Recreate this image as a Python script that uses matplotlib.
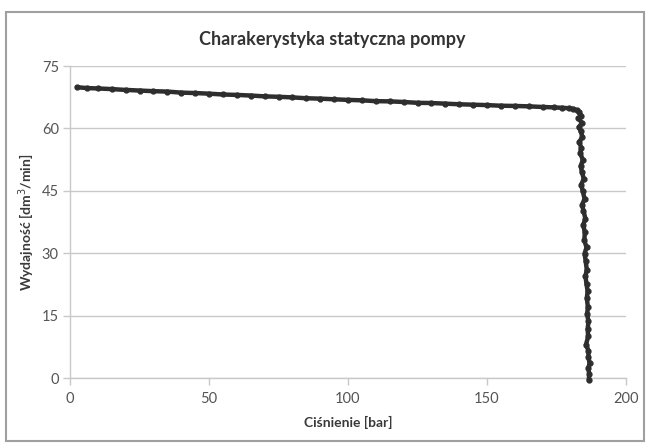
import matplotlib
matplotlib.use("Agg")
import matplotlib.pyplot as plt
from matplotlib.patches import Rectangle

title = "Charakerystyka statyczna pompy"
xlabel = "Ciśnienie [bar]"
ylabel = "Wydajność [dm$^3$/min]"
xticks = [0, 50, 100, 150, 200]
yticks = [0, 15, 30, 45, 60, 75]

# flat part of characteristic
pressure_flat = [2.5, 6, 10, 15, 20, 25, 30, 35, 40, 45, 50, 55, 60, 65, 70, 75, 80, 85,
                 90, 95, 100, 105, 110, 115, 120, 125, 130, 135, 140, 145, 150, 155,
                 160, 165, 170, 174, 177, 179.5, 181, 182.2]
flow_flat = [69.9, 69.7, 69.6, 69.45, 69.25, 69.1, 68.95, 68.85, 68.6, 68.5, 68.35, 68.15,
             68.05, 67.9, 67.7, 67.6, 67.45, 67.25, 67.15, 67.0, 66.85, 66.75, 66.55,
             66.5, 66.35, 66.15, 66.1, 65.95, 65.8, 65.7, 65.6, 65.45, 65.4, 65.3,
             65.15, 65.05, 64.95, 64.85, 64.7, 64.4]
# vertical (relief valve) part
pressure_vert = [183.0, 183.9, 182.8, 184.2, 183.0, 183.7, 184.3, 183.2, 183.9, 183.5,
                 184.5, 183.7, 184.1, 184.8, 183.9, 184.4, 185.1, 184.2, 184.7, 185.4,
                 184.6, 185.2, 185.0, 185.8, 185.1, 185.5, 185.9, 185.4, 185.8, 186.2,
                 185.9, 186.3, 186.0, 186.5, 186.2, 186.4, 185.6, 186.5, 186.5, 186.9,
                 186.4, 186.8, 186.6]
flow_vert = [64.0, 63.1, 62.4, 61.3, 60.3, 59.4, 57.9, 56.8, 55.3, 54.1,
             52.4, 51.0, 49.6, 47.9, 46.5, 45.0, 43.1, 41.6, 40.2, 38.3,
             36.8, 35.0, 33.1, 31.4, 29.9, 28.1, 26.0, 24.5, 22.6, 20.8,
             19.2, 17.0, 15.4, 13.6, 11.7, 10.0, 8.0, 6.6, 5.0, 3.5,
             2.3, 1.0, -0.5]

pressure = pressure_flat + pressure_vert
flow = flow_flat + flow_vert

plt.rcParams['font.family'] = ['Lato', 'DejaVu Sans']

W, H = 646, 443
fig = plt.figure(figsize=(W / 100, H / 100), dpi=100)
fig.patch.set_facecolor('white')

ax = fig.add_axes([70 / W, 1 - 378 / H, (626 - 70) / W, (378 - 66) / H])
ax.plot(pressure, flow, color='#2e2e2e', lw=3.2, solid_joinstyle='round',
        solid_capstyle='round', marker='o', ms=3.5, mec='#2e2e2e', mfc='#2e2e2e',
        zorder=3, clip_on=False)
ax.set_xlim(0, 200)
ax.set_ylim(0, 75)
ax.set_xticks(xticks)
ax.set_yticks(yticks)
ax.yaxis.grid(True, color='#c8c8c8', lw=1)
ax.set_axisbelow(True)
for s in ['top', 'right']:
    ax.spines[s].set_visible(False)
for s in ['left', 'bottom']:
    ax.spines[s].set_color('#c8c8c8')
    ax.spines[s].set_linewidth(1)
ax.tick_params(axis='both', colors='#c8c8c8', labelcolor='#555555', labelsize=10.5,
               length=5, width=1, direction='out')
ax.tick_params(axis='x', pad=5)
ax.tick_params(axis='y', pad=3)

fig.text(332 / W, 1 - 40 / H, title, ha='center', va='center', fontsize=13,
         fontweight='bold', color='#333333')
fig.text(348 / W, 1 - 422 / H, xlabel, ha='center', va='center', fontsize=10,
         fontweight='bold', color='#3a3a3a')
fig.text(27 / W, 1 - 222 / H, ylabel, ha='center', va='center', fontsize=10,
         fontweight='bold', color='#3a3a3a', rotation=90)

# scanned page border
fig.add_artist(Rectangle((6 / W, 1 - 441 / H), (644 - 6) / W, (441 - 12) / H,
                         transform=fig.transFigure, fill=False, edgecolor='#a0a0a0',
                         lw=1.5))

fig.savefig('out.png', dpi=100)
